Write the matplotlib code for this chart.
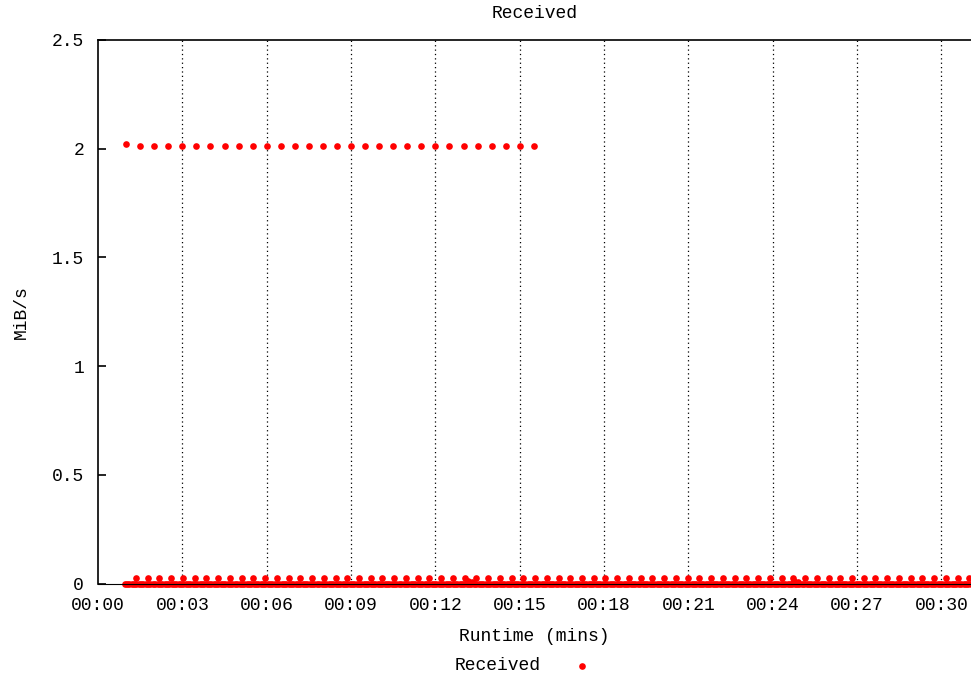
import numpy as np
import matplotlib
matplotlib.use('Agg')
import matplotlib.pyplot as plt
from matplotlib.lines import Line2D

plt.rcParams['font.family'] = ['Liberation Mono', 'DejaVu Sans Mono']

# Runtime in minutes; samples
high_times = np.arange(1.0, 15.6, 0.5)
high_values = [2.021, 2.013, 2.012, 2.012, 2.013, 2.013, 2.012, 2.012, 2.013, 2.012,
               2.013, 2.012, 2.013, 2.012, 2.013, 2.013, 2.013, 2.012, 2.013, 2.012,
               2.012, 2.013, 2.013, 2.012, 2.013, 2.013, 2.013, 2.012, 2.013, 2.012]

mid_times = np.arange(1.35, 31.2, 0.4175)
mid_values = [0.026, 0.027, 0.026, 0.026, 0.027, 0.026, 0.026, 0.026, 0.027, 0.026,
              0.026, 0.027, 0.026, 0.026, 0.027, 0.026, 0.026, 0.027, 0.026, 0.026,
              0.027, 0.026, 0.026, 0.027, 0.026, 0.026, 0.027, 0.026, 0.026, 0.027,
              0.026, 0.026, 0.027, 0.026, 0.026, 0.027, 0.026, 0.026, 0.027, 0.026,
              0.026, 0.027, 0.026, 0.026, 0.027, 0.026, 0.026, 0.027, 0.026, 0.026,
              0.027, 0.026, 0.026, 0.027, 0.026, 0.026, 0.027, 0.026, 0.026, 0.027,
              0.026, 0.026, 0.027, 0.026, 0.026, 0.027, 0.026, 0.026, 0.027, 0.026,
              0.026, 0.027]

# dense near-zero samples (every 5 s), all read as 0
base_times = np.arange(0.95, 31.2, 1 / 12)
base_level = 0.0

# small bumps just above the base line
bump_times = [13.15, 13.3, 24.75, 24.9]
bump_values = [0.010, 0.008, 0.010, 0.008]

xticks = [0, 3, 6, 9, 12, 15, 18, 21, 24, 27, 30]
xtick_labels = ['00:00', '00:03', '00:06', '00:09', '00:12', '00:15',
                '00:18', '00:21', '00:24', '00:27', '00:30']
yticks = [0, 0.5, 1, 1.5, 2, 2.5]
ytick_labels = ['0', '0.5', '1', '1.5', '2', '2.5']

fig = plt.figure(figsize=(9.71, 6.75), dpi=100)
ax = fig.add_axes([98 / 971, 1 - 583.5 / 675, 873 / 971, 543.5 / 675])

red = '#ff0000'
ms = 4.8
ax.plot(base_times, np.full(len(base_times), base_level), 'o', color=red, ms=ms, mec='none', clip_on=False, zorder=2)
ax.plot(bump_times, bump_values, 'o', color=red, ms=ms, mec='none', clip_on=False, zorder=2)
ax.plot(mid_times, mid_values[:len(mid_times)], 'o', color=red, ms=ms, mec='none', clip_on=False, zorder=2)
ax.plot(high_times, high_values, 'o', color=red, ms=ms, mec='none', zorder=2)

ax.set_xlim(0, 31.05)
ax.set_ylim(0, 2.5)
ax.set_xticks(xticks)
ax.set_xticklabels(xtick_labels)
ax.set_yticks(yticks)
ax.set_yticklabels(ytick_labels)
ax.tick_params(direction='in', length=6, width=1.2, labelsize=13, pad=10)
ax.tick_params(axis='x', length=0, pad=10)

for x in xticks[1:]:
    ax.axvline(x, color='black', lw=0.9, ls=(0, (1, 2.5)), zorder=0)

for side in ['left', 'top']:
    ax.spines[side].set_linewidth(1.2)
ax.spines['bottom'].set_linewidth(0.8)
ax.spines['right'].set_visible(False)

ax.set_title('Received', fontsize=13, pad=15.5)
ax.set_xlabel('Runtime (mins)', fontsize=13, labelpad=10)
ax.set_ylabel('MiB/s', fontsize=13, labelpad=15.5)

# legend below the axis label
fig.text(541 / 971, 1 - 666 / 675, 'Received', ha='right', va='center', fontsize=13)
fig.add_artist(Line2D([582 / 971], [1 - 666 / 675], marker='o', color=red, ms=ms,
                      mec='none', transform=fig.transFigure))

fig.savefig('out.png', dpi=100)
